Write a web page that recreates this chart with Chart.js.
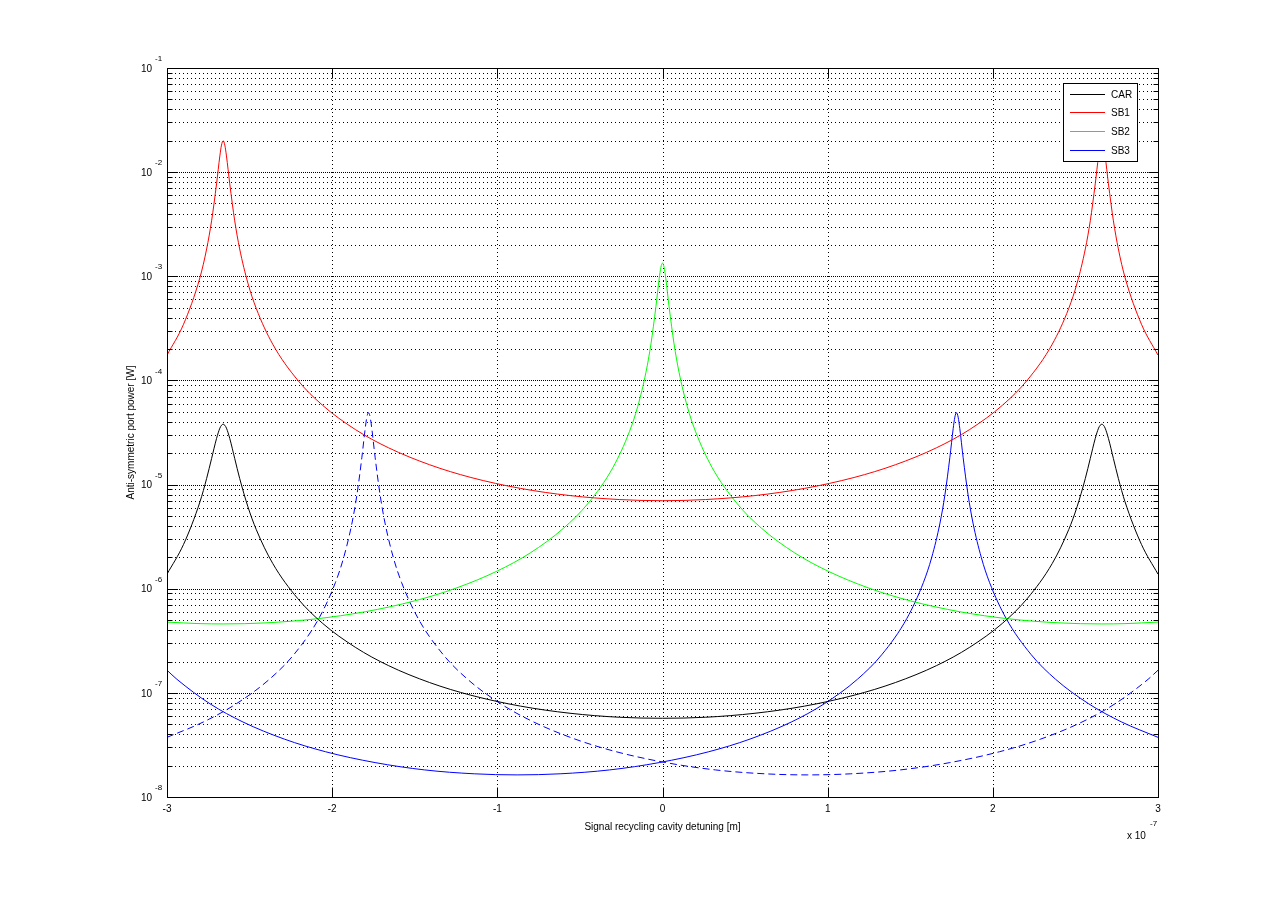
<!DOCTYPE html>
<html>
<head>
<meta charset="utf-8">
<script src="https://cdn.jsdelivr.net/npm/chart.js@4.4.1/dist/chart.umd.min.js"></script>
<style>
html,body{margin:0;padding:0;background:#fff;}
canvas{display:block;}
</style>
</head>
<body>
<canvas id="c" width="1280" height="897"></canvas>
<script>
// ---- Data (x in units of 1e-7 m, y in W) ----
const xTickLabels = [-3, -2, -1, 0, 1, 2, 3];
const yDecadeExponents = [-8, -7, -6, -5, -4, -3, -2, -1];
const seriesNames = ['CAR', 'SB1', 'SB2', 'SB3'];
const seriesColors = ['#000000', '#ff0000', '#00ff00', '#0000ff'];
const xAxisTitle = 'Signal recycling cavity detuning [m]';
const yAxisTitle = 'Anti-symmetric port power [W]';

const xCarrier = [-3.00,-2.90,-2.80,-2.76,-2.73,-2.70,-2.68,-2.67,-2.66,-2.65,-2.64,-2.62,-2.59,-2.56,-2.51,-2.46,-2.36,-2.21,-2.06,-1.86,-1.66,-1.41,-1.16,-0.86,-0.56,-0.26,
  0,
  0.26,0.56,0.86,1.16,1.41,1.66,1.86,2.06,2.21,2.36,2.46,2.51,2.56,2.59,2.62,2.64,2.65,2.66,2.67,2.68,2.70,2.73,2.76,2.80,2.90,3.00];

const carPower = [1.38e-6,2.66e-6,6.86e-6,1.145e-5,1.78e-5,2.77e-5,3.48e-5,3.71e-5,3.8e-5,3.71e-5,3.48e-5,2.77e-5,1.78e-5,1.145e-5,6.12e-6,3.71e-6,1.75e-6,8.1e-7,4.68e-7,2.74e-7,1.83e-7,1.256e-7,9.49e-8,7.46e-8,6.37e-8,5.83e-8,
  5.7e-8,
  5.83e-8,6.37e-8,7.46e-8,9.49e-8,1.256e-7,1.83e-7,2.74e-7,4.68e-7,8.1e-7,1.75e-6,3.71e-6,6.12e-6,1.145e-5,1.78e-5,2.77e-5,3.48e-5,3.71e-5,3.8e-5,3.71e-5,3.48e-5,2.77e-5,1.78e-5,1.145e-5,6.86e-6,2.66e-6,1.38e-6];

const sb1Power = [1.75e-4,3.46e-4,9.79e-4,1.83e-3,3.41e-3,7.72e-3,1.43e-2,1.82e-2,2.0e-2,1.82e-2,1.43e-2,7.72e-3,3.41e-3,1.83e-3,8.58e-4,4.93e-4,2.23e-4,1.012e-4,5.81e-5,3.38e-5,2.26e-5,1.55e-5,1.17e-5,9.19e-6,7.84e-6,7.18e-6,
  7.0e-6,
  7.18e-6,7.84e-6,9.19e-6,1.17e-5,1.55e-5,2.26e-5,3.38e-5,5.81e-5,1.012e-4,2.23e-4,4.93e-4,8.58e-4,1.83e-3,3.41e-3,7.72e-3,1.43e-2,1.82e-2,2.0e-2,1.82e-2,1.43e-2,7.72e-3,3.41e-3,1.83e-3,9.79e-4,3.46e-4,1.75e-4];

const xSb2 = [-3.00,-2.80,-2.66,-2.40,-2.10,-1.80,-1.50,-1.25,-1.00,-0.80,-0.60,-0.45,-0.30,-0.20,-0.15,-0.10,-0.07,-0.04,-0.02,-0.01,
  0,
  0.01,0.02,0.04,0.07,0.10,0.15,0.20,0.30,0.45,0.60,0.80,1.00,1.25,1.50,1.80,2.10,2.40,2.66,2.80,3.00];

const sb2Power = [4.78e-7,4.62e-7,4.59e-7,4.70e-7,5.13e-7,6.01e-7,7.65e-7,1.013e-6,1.48e-6,2.21e-6,3.80e-6,6.62e-6,1.46e-5,3.23e-5,5.62e-5,1.20e-4,2.24e-4,5.10e-4,9.52e-4,1.216e-3,
  1.34e-3,
  1.216e-3,9.52e-4,5.10e-4,2.24e-4,1.20e-4,5.62e-5,3.23e-5,1.46e-5,6.62e-6,3.80e-6,2.21e-6,1.48e-6,1.013e-6,7.65e-7,6.01e-7,5.13e-7,4.70e-7,4.59e-7,4.62e-7,4.78e-7];

const xSb3Upper = [-3.00,-2.94,-2.74,-2.54,-2.29,-2.04,-1.74,-1.44,-1.14,-0.88,-0.62,-0.32,-0.02,0.28,0.53,0.78,0.98,1.18,1.33,1.48,1.58,1.63,1.68,1.71,1.74,1.76,1.77,
  1.78,
  1.79,1.80,1.82,1.85,1.88,1.93,1.98,2.08,2.23,2.38,2.58,2.78,3.00];

const sb3UpperPower = [1.65e-7,1.35e-7,7.86e-8,5.25e-8,3.60e-8,2.72e-8,2.14e-8,1.82e-8,1.67e-8,1.63e-8,1.67e-8,1.82e-8,2.14e-8,2.72e-8,3.60e-8,5.25e-8,7.86e-8,1.35e-7,2.35e-7,5.20e-7,1.15e-6,2.00e-6,4.27e-6,7.99e-6,1.83e-5,3.45e-5,4.44e-5,
  4.9e-5,
  4.44e-5,3.45e-5,1.83e-5,7.99e-6,4.27e-6,2.00e-6,1.15e-6,5.20e-7,2.35e-7,1.35e-7,7.86e-8,5.25e-8,3.74e-8];

const xSb3Lower = [-3.00,-2.78,-2.58,-2.38,-2.23,-2.08,-1.98,-1.93,-1.88,-1.85,-1.82,-1.80,-1.79,
  -1.78,
  -1.77,-1.76,-1.74,-1.71,-1.68,-1.63,-1.58,-1.48,-1.33,-1.18,-0.98,-0.78,-0.53,-0.28,0.02,0.32,0.62,0.88,1.14,1.44,1.74,2.04,2.29,2.54,2.74,2.94,3.00];

const sb3LowerPower = [3.74e-8,5.25e-8,7.86e-8,1.35e-7,2.35e-7,5.20e-7,1.15e-6,2.00e-6,4.27e-6,7.99e-6,1.83e-5,3.45e-5,4.44e-5,
  4.9e-5,
  4.44e-5,3.45e-5,1.83e-5,7.99e-6,4.27e-6,2.00e-6,1.15e-6,5.20e-7,2.35e-7,1.35e-7,7.86e-8,5.25e-8,3.60e-8,2.72e-8,2.14e-8,1.82e-8,1.67e-8,1.63e-8,1.67e-8,1.82e-8,2.14e-8,2.72e-8,3.60e-8,5.25e-8,7.86e-8,1.35e-7,1.65e-7];

// ---- Chart ----
const FONT = '"Liberation Sans", Arial, Helvetica, sans-serif';
Chart.defaults.font.family = FONT;

const toPts = (xs, ys) => xs.map((x, i) => ({ x: x, y: ys[i] }));

function hline(ctx, x1, x2, y) { ctx.beginPath(); ctx.moveTo(x1, y); ctx.lineTo(x2, y); ctx.stroke(); }
function vline(ctx, x, y1, y2) { ctx.beginPath(); ctx.moveTo(x, y1); ctx.lineTo(x, y2); ctx.stroke(); }

function yTickList() {
  const list = [];
  yDecadeExponents.forEach((e, idx) => {
    const last = idx === yDecadeExponents.length - 1;
    for (let m = 1; m <= 9; m++) {
      if (last && m > 1) break;
      list.push({ value: m * Math.pow(10, e), major: m === 1, exp: e });
    }
  });
  return list;
}

const matlabAxes = {
  id: 'matlabAxes',
  beforeDatasetsDraw(chart) {
    const { ctx, chartArea: a, scales } = chart;
    const xs = scales.x, ys = scales.y;
    ctx.save();
    ctx.strokeStyle = '#000';
    ctx.lineWidth = 1;
    ctx.setLineDash([1, 3]);
    xTickLabels.forEach((v, i) => {
      if (i === 0 || i === xTickLabels.length - 1) return;
      const px = Math.round(xs.getPixelForValue(v)) + 0.5;
      vline(ctx, px, a.top, a.bottom);
    });
    yTickList().forEach(t => {
      const py = Math.round(ys.getPixelForValue(t.value)) + 0.5;
      if (py <= a.top + 1 || py >= a.bottom - 1) return;
      ctx.setLineDash(t.major ? [1, 1] : [1, 3]);
      hline(ctx, a.left, a.right, py);
    });
    ctx.restore();
  },
  afterDatasetsDraw(chart) {
    const { ctx, chartArea: a, scales } = chart;
    const xs = scales.x, ys = scales.y;
    const L = Math.round(a.left) + 0.5, R = Math.round(a.right) + 0.5;
    const T = Math.round(a.top) + 0.5, B = Math.round(a.bottom) + 0.5;
    ctx.save();
    ctx.setLineDash([]);
    ctx.strokeStyle = '#000';
    ctx.lineWidth = 1;
    ctx.strokeRect(L, T, R - L, B - T);
    xTickLabels.forEach(v => {
      const px = Math.round(xs.getPixelForValue(v)) + 0.5;
      vline(ctx, px, B, B - 10);
      vline(ctx, px, T, T + 10);
    });
    yTickList().forEach(t => {
      const py = Math.round(ys.getPixelForValue(t.value)) + 0.5;
      const len = t.major ? 10 : 5;
      hline(ctx, L, L + len, py);
      hline(ctx, R, R - len, py);
    });
    ctx.fillStyle = '#000';
    ctx.font = '10px ' + FONT;
    ctx.textAlign = 'center';
    ctx.textBaseline = 'middle';
    xTickLabels.forEach(v => {
      const px = xs.getPixelForValue(v);
      ctx.fillText(String(v), px, a.bottom + 12);
    });
    yDecadeExponents.forEach(e => {
      const py = ys.getPixelForValue(Math.pow(10, e));
      ctx.font = '10px ' + FONT;
      ctx.textAlign = 'right';
      ctx.textBaseline = 'middle';
      ctx.fillText('10', a.left - 15, py + 1);
      ctx.font = '8px ' + FONT;
      ctx.textAlign = 'left';
      ctx.fillText(String(e), a.left - 12, py - 9);
    });
    ctx.font = '10px ' + FONT;
    ctx.textAlign = 'center';
    ctx.textBaseline = 'middle';
    ctx.fillText(xAxisTitle, (a.left + a.right) / 2, a.bottom + 30);
    ctx.save();
    ctx.translate(131, (a.top + a.bottom) / 2);
    ctx.rotate(-Math.PI / 2);
    ctx.fillText(yAxisTitle, 0, 0);
    ctx.restore();
    ctx.textAlign = 'left';
    ctx.font = '10px ' + FONT;
    ctx.fillText('x 10', a.right - 31, a.bottom + 39);
    ctx.font = '8px ' + FONT;
    ctx.fillText('-7', a.right - 8, a.bottom + 27);
    // legend box
    const lx = 1063.5, ly = 83.5, lw = 74, lh = 78;
    ctx.fillStyle = '#fff';
    ctx.fillRect(lx, ly, lw, lh);
    ctx.strokeStyle = '#000';
    ctx.strokeRect(lx, ly, lw, lh);
    const rows = [94, 112, 131, 150];
    seriesNames.forEach((name, i) => {
      ctx.fillStyle = seriesColors[i];
      ctx.fillRect(1070, rows[i], 35, 1);
      ctx.fillStyle = '#000';
      ctx.font = '10px ' + FONT;
      ctx.textAlign = 'left';
      ctx.textBaseline = 'middle';
      ctx.fillText(name, 1111, rows[i] + 1);
    });
    ctx.restore();
  }
};

new Chart(document.getElementById('c'), {
  type: 'line',
  data: {
    datasets: [
      { label: seriesNames[0], data: toPts(xCarrier, carPower), borderColor: seriesColors[0] },
      { label: seriesNames[1], data: toPts(xCarrier, sb1Power), borderColor: seriesColors[1] },
      { label: seriesNames[2], data: toPts(xSb2, sb2Power), borderColor: seriesColors[2] },
      { label: seriesNames[3], data: toPts(xSb3Upper, sb3UpperPower), borderColor: seriesColors[3] },
      { label: seriesNames[3] + ' (mirror)', data: toPts(xSb3Lower, sb3LowerPower), borderColor: seriesColors[3], borderDash: [7, 4] }
    ]
  },
  options: {
    responsive: false,
    animation: false,
    devicePixelRatio: 1,
    events: [],
    layout: { padding: { left: 159, right: 122, top: 68, bottom: 92 } },
    elements: {
      point: { radius: 0, hoverRadius: 0 },
      line: { borderWidth: 1, fill: false, cubicInterpolationMode: 'monotone' }
    },
    plugins: { legend: { display: false }, tooltip: { enabled: false }, title: { display: false } },
    scales: {
      x: { type: 'linear', min: -3, max: 3, ticks: { display: false }, grid: { display: false }, border: { display: false } },
      y: { type: 'logarithmic', min: 1e-8, max: 1e-1, ticks: { display: false }, grid: { display: false }, border: { display: false } }
    }
  },
  plugins: [matlabAxes]
});
</script>
</body>
</html>
